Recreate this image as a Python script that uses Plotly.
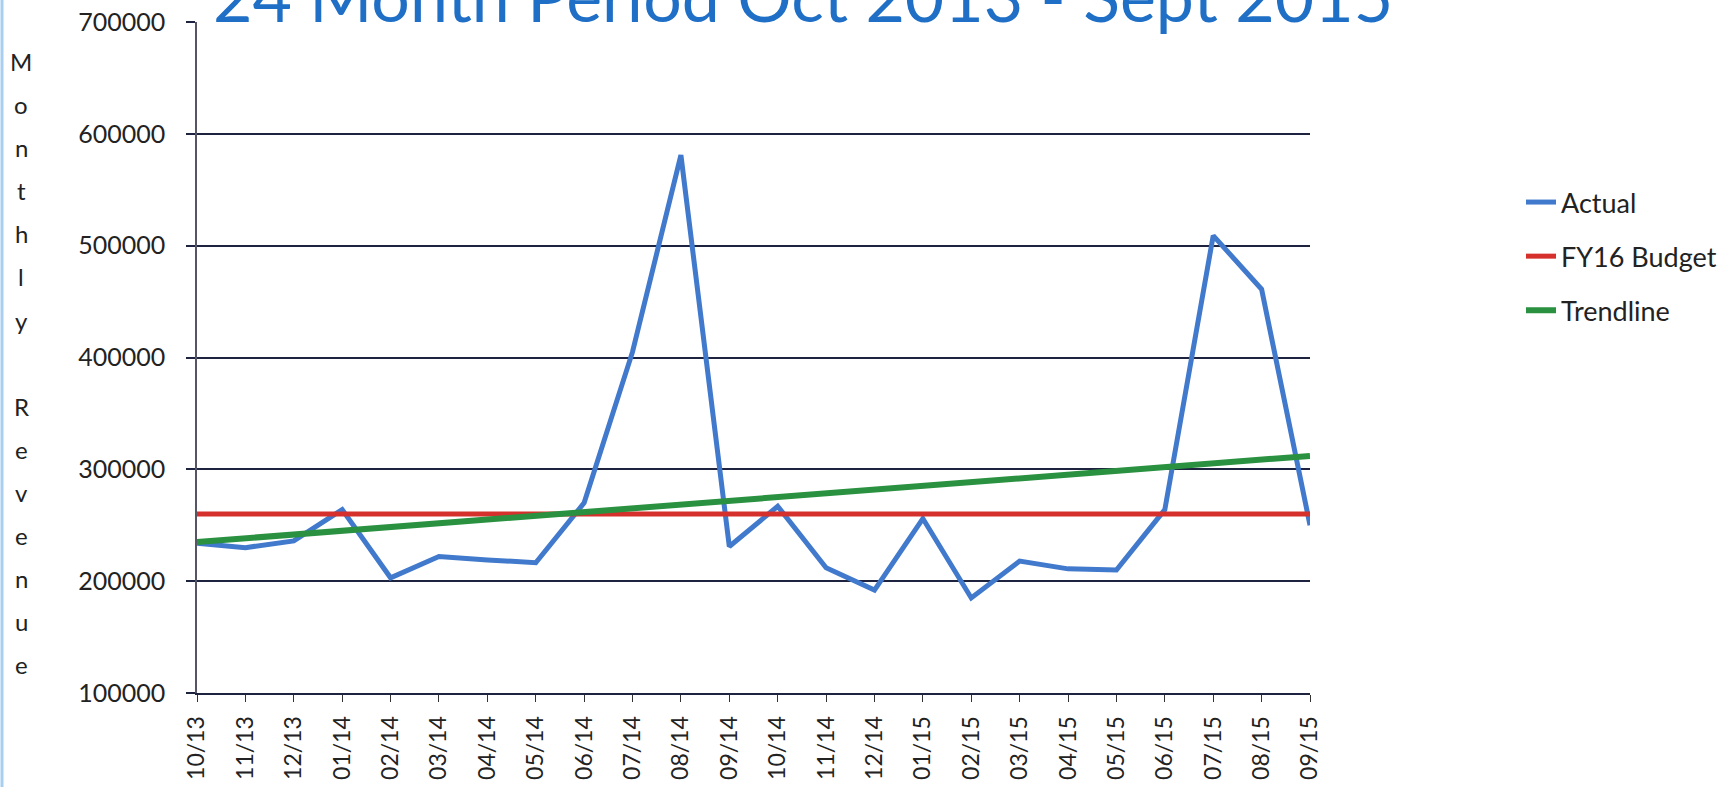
import plotly.graph_objects as go

months = ["10/13", "11/13", "12/13", "01/14", "02/14", "03/14", "04/14", "05/14",
          "06/14", "07/14", "08/14", "09/14", "10/14", "11/14", "12/14", "01/15",
          "02/15", "03/15", "04/15", "05/15", "06/15", "07/15", "08/15", "09/15"]
actual = [234000, 230000, 236000, 264000, 203000, 222000, 219000, 216500,
          270000, 405000, 581000, 231000, 267000, 212000, 192000, 256000,
          185000, 218000, 211000, 210000, 264000, 509000, 461000, 250000]
budget_x = ["10/13", "09/15"]
budget = [260000, 260000]
trend_x = ["10/13", "09/15"]
trend = [235000, 312000]
y_ticks = [100000, 200000, 300000, 400000, 500000, 600000, 700000]
title_text = "24 Month Period Oct 2013 - Sept 2015"
ylabel_text = "Monthly Revenue"

FONT = "Lato, 'Open Sans', sans-serif"

fig = go.Figure()
fig.add_trace(go.Scatter(x=months, y=actual, mode="lines", name="Actual",
                         line=dict(color="#4179CC", width=5), cliponaxis=False,
                         legendgroup="a"))
fig.add_trace(go.Scatter(x=budget_x, y=budget, mode="lines", name="FY16 Budget",
                         line=dict(color="#D6302C", width=5), cliponaxis=False,
                         legendgroup="b"))
fig.add_trace(go.Scatter(x=trend_x, y=trend, mode="lines", name="Trendline",
                         line=dict(color="#2A9140", width=6), cliponaxis=False,
                         legendgroup="c"))

L, R, T, B = 197, 426, 22, 94
W, H = 1736, 787
pw, ph = W - L - R, H - T - B

annotations = []
# title, partly cut at top of the page as in the reference
annotations.append(dict(text=title_text, xref="paper", yref="paper",
                        x=(803 - L) / pw, y=1 + (T - 38) / ph,
                        xanchor="center", yanchor="bottom", showarrow=False,
                        font=dict(family=FONT, size=68, color="#1F6FC6")))
# vertical stacked y label, one letter per line
for i, ch in enumerate(ylabel_text):
    if ch == " ":
        continue
    yp = 62 + 43 * i
    annotations.append(dict(text=ch, xref="paper", yref="paper",
                            x=(21 - L) / pw, y=1 - (yp - T) / ph,
                            xanchor="center", yanchor="middle", showarrow=False,
                            font=dict(family=FONT, size=24, color="#222222")))
fig.update_layout(annotations=annotations)

fig.add_shape(type="line", xref="paper", yref="paper",
              x0=(2 - L) / pw, x1=(2 - L) / pw, y0=-B / ph, y1=1 + T / ph,
              line=dict(color="#A8CFF2", width=3))

fig.update_layout(
    width=W, height=H, autosize=False,
    margin=dict(l=L, r=R, t=T, b=B, pad=0),
    paper_bgcolor="white", plot_bgcolor="white",
    font=dict(family=FONT, color="#222222"),
    showlegend=True,
    legend=dict(x=(1521 - L) / pw, y=1 - (178 - T) / ph, xanchor="left", yanchor="top",
                font=dict(family=FONT, size=27, color="#222222"),
                tracegroupgap=16, bgcolor="rgba(0,0,0,0)"),
    xaxis=dict(type="category", range=[0, len(months) - 1], showgrid=False,
               automargin=False,
               showline=True, linecolor="#1E2340", linewidth=2,
               ticks="outside", ticklen=7, tickcolor="#333333", tickwidth=1,
               tickangle=-90, tickfont=dict(family=FONT, size=23, color="#222222"),
               ticklabelstandoff=5, zeroline=False),
    yaxis=dict(range=[100000, 700000], tickvals=y_ticks, tickformat="d",
               automargin=False,
               showgrid=True, gridcolor="#1E2340", gridwidth=1.5,
               showline=True, linecolor="#555566", linewidth=1.5,
               ticks="outside", ticklen=9, tickcolor="#1E2340", tickwidth=1.5,
               tickfont=dict(family=FONT, size=25, color="#222222"),
               ticklabelstandoff=16, zeroline=False),
)

fig.write_html("out.html")
